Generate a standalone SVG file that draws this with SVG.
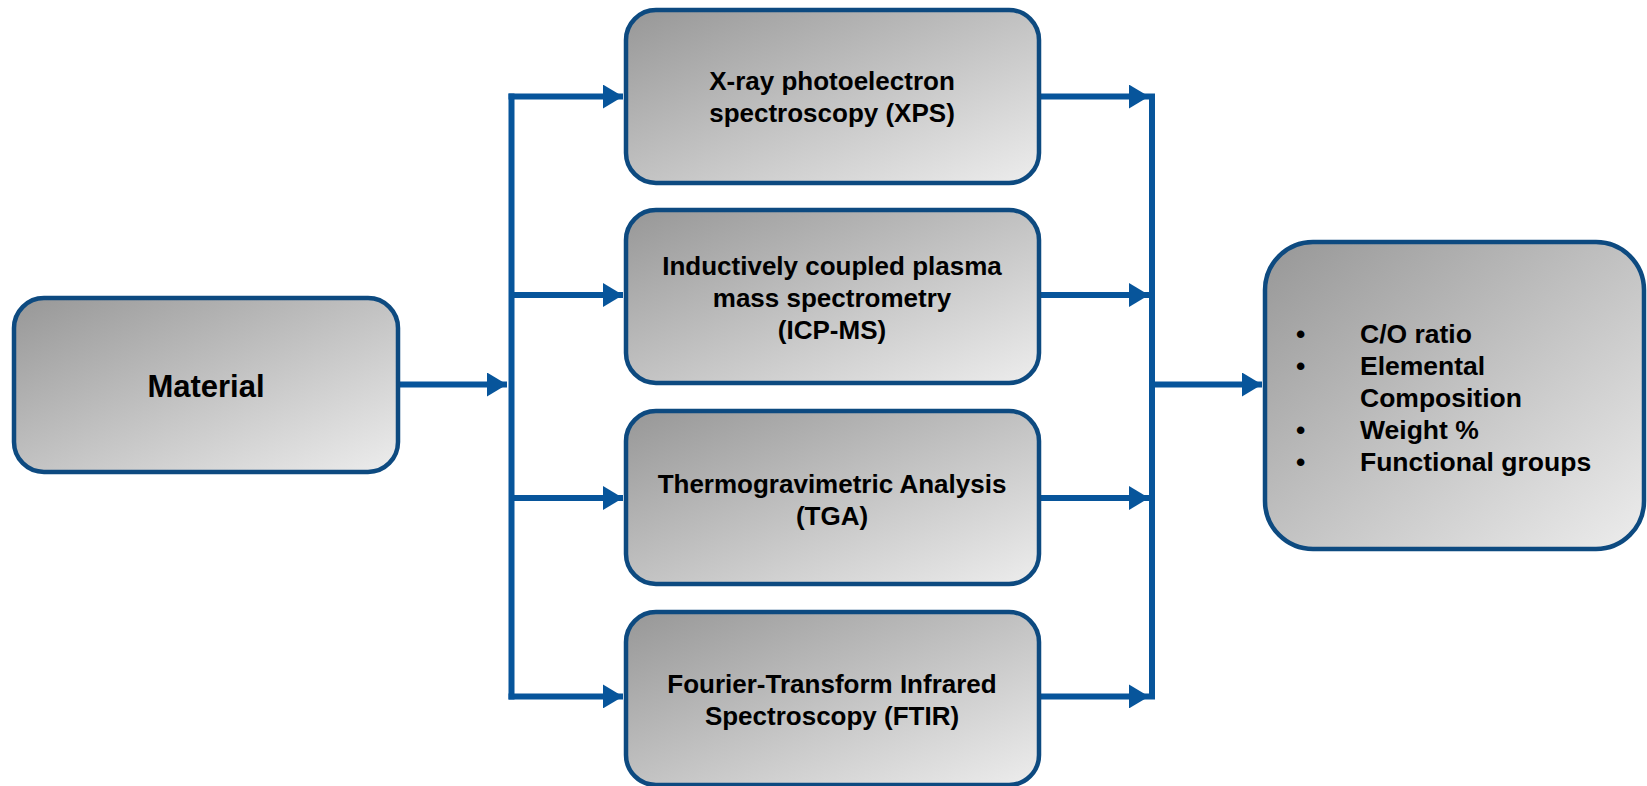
<svg xmlns="http://www.w3.org/2000/svg" width="1647" height="786" viewBox="0 0 1647 786">
<style>
.box{stroke:#0d4a80;stroke-width:4.5;fill:url(#g)}
.t{font-family:"Liberation Sans",Arial,sans-serif;font-weight:bold;font-size:26px;fill:#000;text-anchor:middle}
.l{font-family:"Liberation Sans",Arial,sans-serif;font-weight:bold;font-size:26.5px;fill:#000}
.c{stroke:#07559b;stroke-width:6;fill:none}
</style>
<defs>
<linearGradient id="g" x1="0" y1="0" x2="1" y2="1">
<stop offset="0" stop-color="#979797"/>
<stop offset="1" stop-color="#ededed"/>
</linearGradient>
<marker id="a" markerUnits="userSpaceOnUse" markerWidth="22" markerHeight="24" refX="20" refY="12" orient="auto">
<polygon points="0,0 20,12 0,24" fill="#07559b"/>
</marker>
</defs>
<g id="connectors">
<line class="c" x1="399" y1="384.5" x2="507" y2="384.5" marker-end="url(#a)"/>
<line class="c" x1="511.5" y1="93.6" x2="511.5" y2="699.4"/>
<line class="c" x1="508.5" y1="96.6" x2="623" y2="96.6" marker-end="url(#a)"/>
<line class="c" x1="511.5" y1="295" x2="623" y2="295" marker-end="url(#a)"/>
<line class="c" x1="511.5" y1="498" x2="623" y2="498" marker-end="url(#a)"/>
<line class="c" x1="508.5" y1="696.4" x2="623" y2="696.4" marker-end="url(#a)"/>
<line class="c" x1="1040" y1="96.6" x2="1149" y2="96.6" marker-end="url(#a)"/>
<line class="c" x1="1040" y1="295" x2="1149" y2="295" marker-end="url(#a)"/>
<line class="c" x1="1040" y1="498" x2="1149" y2="498" marker-end="url(#a)"/>
<line class="c" x1="1040" y1="696.4" x2="1149" y2="696.4" marker-end="url(#a)"/>
<line class="c" x1="1152" y1="93.6" x2="1152" y2="699.4"/>
<line class="c" x1="1152" y1="384.5" x2="1262" y2="384.5" marker-end="url(#a)"/>
</g>
<g id="material">
<rect class="box" x="14" y="298" width="384" height="174" rx="30"/>
<text class="t" x="206" y="397" style="font-size:31px">Material</text>
</g>
<g id="xps">
<rect class="box" x="626" y="10" width="413" height="173" rx="30"/>
<text class="t" x="832" y="90">X-ray photoelectron</text>
<text class="t" x="832" y="122">spectroscopy (XPS)</text>
</g>
<g id="icpms">
<rect class="box" x="626" y="210" width="413" height="173" rx="30"/>
<text class="t" x="832" y="275">Inductively coupled plasma</text>
<text class="t" x="832" y="307">mass spectrometry</text>
<text class="t" x="832" y="339">(ICP-MS)</text>
</g>
<g id="tga">
<rect class="box" x="626" y="411" width="413" height="173" rx="30"/>
<text class="t" x="832" y="493">Thermogravimetric Analysis</text>
<text class="t" x="832" y="525">(TGA)</text>
</g>
<g id="ftir">
<rect class="box" x="626" y="612" width="413" height="173" rx="30"/>
<text class="t" x="832" y="693">Fourier-Transform Infrared</text>
<text class="t" x="832" y="725">Spectroscopy (FTIR)</text>
</g>
<g id="results">
<rect class="box" x="1265" y="242" width="379" height="307" rx="48"/>
<text class="l" x="1296" y="343">•</text>
<text class="l" x="1360" y="343">C/O ratio</text>
<text class="l" x="1296" y="375">•</text>
<text class="l" x="1360" y="375">Elemental</text>
<text class="l" x="1360" y="407">Composition</text>
<text class="l" x="1296" y="439">•</text>
<text class="l" x="1360" y="439">Weight %</text>
<text class="l" x="1296" y="471">•</text>
<text class="l" x="1360" y="471">Functional groups</text>
</g>
</svg>
